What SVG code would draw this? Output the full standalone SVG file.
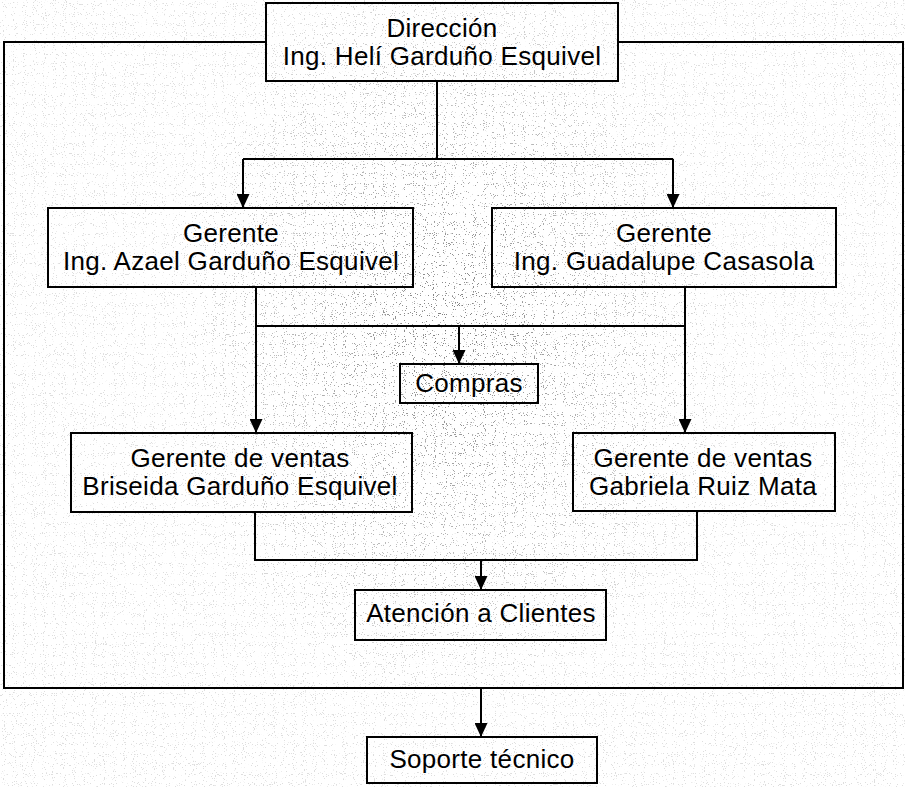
<svg xmlns="http://www.w3.org/2000/svg" width="905" height="787" viewBox="0 0 905 787">
  <style>
    .box { fill: none; stroke: #000; stroke-width: 2; }
    .lbl { font-family: "Liberation Sans", Arial, sans-serif; font-size: 26px; letter-spacing: 0.3px; fill: #000; text-anchor: middle; }
    .wire { fill: none; stroke: #000; stroke-width: 2; }
    .arrow { marker-end: url(#head); }
  </style>
  <defs>
    <marker id="head" viewBox="0 0 14 13" refX="14" refY="6.5" markerWidth="14" markerHeight="13" markerUnits="userSpaceOnUse" orient="auto">
      <path d="M0 0 L14 6.5 L0 13 Z" fill="#000"/>
    </marker>
    <!-- sparse speckle texture of the scanned paper -->
    <filter id="speckle" x="0" y="0" width="100%" height="100%">
      <feTurbulence type="fractalNoise" baseFrequency="0.9" numOctaves="1" seed="7" result="n"/>
      <feColorMatrix in="n" type="matrix" values="0 0 0 0 0.2  0 0 0 0 0.2  0 0 0 0 0.2  0 0 0 24 -15.6"/>
    </filter>
    <radialGradient id="fade" cx="450" cy="330" r="380" gradientUnits="userSpaceOnUse" gradientTransform="translate(450 330) scale(0.75 1) translate(-450 -330)">
      <stop offset="0" stop-color="#fff" stop-opacity="1"/>
      <stop offset="0.5" stop-color="#fff" stop-opacity="0.6"/>
      <stop offset="1" stop-color="#fff" stop-opacity="0.25"/>
    </radialGradient>
    <mask id="grainMask">
      <rect width="905" height="787" fill="url(#fade)"/>
    </mask>
  </defs>

  <!-- paper -->
  <rect width="905" height="787" fill="#fff"/>
  <rect width="905" height="787" filter="url(#speckle)" mask="url(#grainMask)"/>

  <!-- connectors -->
  <g id="connectors">
    <!-- outer frame around the company -->
    <path class="wire" d="M266 42 H4 V688 H903 V42 H618"/>
    <!-- Dirección to the two managers -->
    <path class="wire" d="M437 81 V159 M243 159 H673"/>
    <path class="wire arrow" d="M243 159 V208"/>
    <path class="wire arrow" d="M673 159 V208"/>
    <!-- managers to sales and purchasing -->
    <path class="wire arrow" d="M256 287 V433"/>
    <path class="wire" d="M256 326 H685"/>
    <path class="wire arrow" d="M459 326 V364"/>
    <path class="wire arrow" d="M685 287 V433"/>
    <!-- sales to customer service -->
    <path class="wire" d="M255 512 V560 H697 V511"/>
    <path class="wire arrow" d="M481 560 V590"/>
    <!-- frame to technical support -->
    <path class="wire arrow" d="M481 688 V737"/>
  </g>

  <g id="direccion">
    <rect class="box" x="266" y="3" width="352" height="78"/>
    <text class="lbl" x="442" y="37">Dirección</text>
    <text class="lbl" x="442" y="65">Ing. Helí Garduño Esquivel</text>
  </g>

  <g id="gerente-azael">
    <rect class="box" x="48" y="208" width="365" height="79"/>
    <text class="lbl" x="231" y="242">Gerente</text>
    <text class="lbl" x="231" y="270">Ing. Azael Garduño Esquivel</text>
  </g>

  <g id="gerente-guadalupe">
    <rect class="box" x="492" y="208" width="344" height="79"/>
    <text class="lbl" x="664" y="242">Gerente</text>
    <text class="lbl" x="664" y="270">Ing. Guadalupe Casasola</text>
  </g>

  <g id="compras">
    <rect class="box" x="400" y="364" width="138" height="39"/>
    <text class="lbl" x="469" y="392">Compras</text>
  </g>

  <g id="ventas-briseida">
    <rect class="box" x="71" y="433" width="341" height="79"/>
    <text class="lbl" x="240" y="467">Gerente de ventas</text>
    <text class="lbl" x="240" y="495">Briseida Garduño Esquivel</text>
  </g>

  <g id="ventas-gabriela">
    <rect class="box" x="573" y="433" width="262" height="78"/>
    <text class="lbl" x="703" y="467">Gerente de ventas</text>
    <text class="lbl" x="703" y="495">Gabriela Ruiz Mata</text>
  </g>

  <g id="atencion-clientes">
    <rect class="box" x="355" y="590" width="251" height="50"/>
    <text class="lbl" x="481" y="622">Atención a Clientes</text>
  </g>

  <g id="soporte-tecnico">
    <rect class="box" x="367" y="737" width="230" height="46"/>
    <text class="lbl" x="482" y="768">Soporte técnico</text>
  </g>
</svg>
